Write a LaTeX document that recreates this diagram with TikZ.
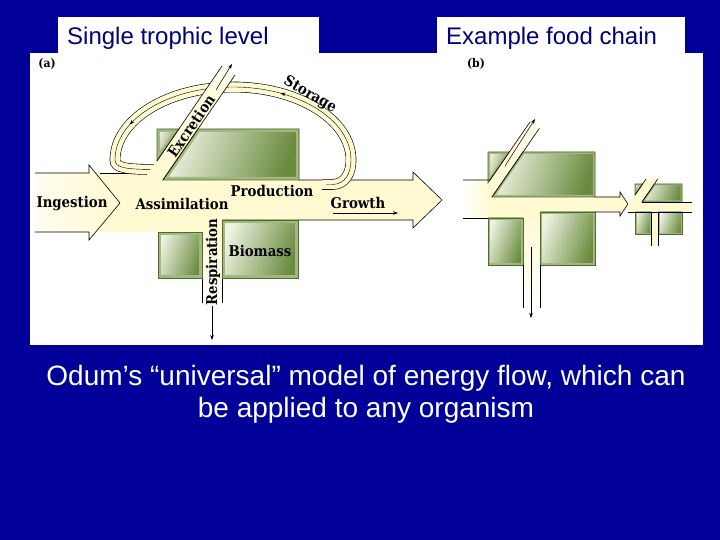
\documentclass[tikz,border=0pt]{standalone}
\usepackage{fontspec}
\newfontfamily\capfont{Liberation Sans}
\newfontfamily\labfont{DejaVu Serif Condensed}
\usetikzlibrary{arrows.meta,decorations.markings}
\definecolor{bgblue}{HTML}{000099}
\definecolor{navytext}{HTML}{00007A}
\definecolor{cream}{HTML}{FFFAD2}
\definecolor{boxframe}{HTML}{A3B780}
\definecolor{boxline}{HTML}{4E6A2C}
\definecolor{boxlight}{HTML}{EEF3E2}
\definecolor{boxdark}{HTML}{6A8A3E}
\newcommand\greenpoly[2]{%
  \begin{scope}
    \clip #2;
    \shade[left color=boxlight, right color=boxdark, shading angle=70] #2;
    \draw[boxframe, line width=#1] #2;
  \end{scope}
  \draw[boxline, line width=0.7pt] #2;
}
\tikzset{
  outl/.style={black, line width=0.6pt},
  thinarrow/.style={black, line width=0.5pt, -{Stealth[length=5pt,width=3.5pt]}},
  lab/.style={font=\labfont\bfseries\fontsize{14.8}{17}\selectfont, inner sep=0pt},
  panellab/.style={font=\labfont\bfseries\fontsize{12}{14}\selectfont, inner sep=0pt},
  headlab/.style={font=\capfont\fontsize{24}{28}\selectfont, text=navytext, anchor=west, inner sep=0pt},
}
\begin{document}
\begin{tikzpicture}[x=1pt,y=-1pt]
\useasboundingbox (0,0) rectangle (720,540);
% background
\fill[bgblue] (0,0) rectangle (720,540);
\fill[white] (30,53) rectangle (703,345);
\fill[white] (58,17) rectangle (319,53);
\fill[white] (437,17) rectangle (685,53);

% ===== (a) =====
\fill[cream] (95,173) -- (165,173) -- (165,180) -- (413,180) -- (413,172) -- (442,200) -- (413,228) -- (413,220) -- (222,220) -- (222,232) -- (95,232) -- cycle;
\shade[top color=cream, middle color=cream, bottom color=white] (202,231) rectangle (222,306);
\shade[left color=cream!35, right color=cream] (35,173) -- (89,173) -- (89,165) -- (120,203) -- (89,240) -- (89,232) -- (35,232) -- cycle;
\draw[outl] (35,173) -- (89,173) -- (89,165) -- (120,203) -- (89,240) -- (89,232) -- (35,232);
\draw[outl] (100,173) -- (130,173);
\draw[outl] (299,180) -- (413,180) -- (413,172) -- (442,200) -- (413,228) -- (413,220) -- (298,220);
\draw[outl] (202,232) -- (202,303);
\draw[outl] (222,278) -- (222,303);
% storage loop
\draw[black, line width=0.6pt, double=cream, double distance=9.5pt]
  (322,184.5) -- (332,184.5) .. controls (346,184.5) and (351,172) .. (351,160)
  arc[start angle=0, end angle=-180, x radius=118, y radius=73]
  .. controls (115,168) and (126,169.5) .. (158,169.5);
\draw[black, line width=0.4pt, postaction={decorate}, decoration={markings,
    mark=at position 0.37 with {\arrow{Stealth[length=5pt,width=3.5pt]}},
    mark=at position 0.78 with {\arrow{Stealth[length=5pt,width=3.5pt]}}}]
  (326,184.5) -- (332,184.5) .. controls (346,184.5) and (351,172) .. (351,160)
  arc[start angle=0, end angle=-180, x radius=118, y radius=73]
  .. controls (115,168) and (126,169.5) .. (158,169.5);
% excretion strip
\shade[top color=cream!50, middle color=cream, bottom color=cream] (146,176) -- (222,66) -- (235,75) -- (163,180) -- cycle;
% boxes
\greenpoly{6pt}{(157,129) -- (178.8,129) -- (157,160.8) -- cycle}
\greenpoly{6pt}{(197.8,129) -- (299,129) -- (299,180) -- (162.8,180) -- cycle}
\greenpoly{6pt}{(158,232) rectangle (202,278)}
\greenpoly{6pt}{(222,220) rectangle (298,278)}
\draw[outl] (157,161) -- (222,66);
\draw[outl] (163,180) -- (235,75);
\draw[thinarrow] (216,90) -- (232,64);
\draw[thinarrow] (212,306) -- (212,340);
\draw[thinarrow] (333,213) -- (398,213);
% labels
\node[panellab] (pa) at (47,64) {(a)};
\node[lab] (ing) at (72,204) {Ingestion};
\node[lab] (ass) at (182,204) {Assimilation};
\node[lab] (prod) at (272,191) {Production};
\node[lab] (gro) at (358,203) {Growth};
\node[lab] (bio) at (260,251) {Biomass};
\node[lab, rotate=90] (resp) at (213,262) {Respiration};
\node[lab, rotate=55.5] (exc) at (191,126) {Excretion};
\node[lab, rotate=-30] (sto) at (310,95) {Storage};

% ===== (b) =====
\fill[cream] (463,180) -- (497,180) -- (497,197) -- (620,197) -- (620,192) -- (628,204) -- (620,216) -- (620,212) -- (540,212) -- (540,218) -- (463,218) -- cycle;
\shade[left color=white, right color=cream] (463,180) rectangle (490,218);
\shade[top color=cream, middle color=cream, bottom color=white] (523,212) rectangle (540,310);
\shade[top color=cream!50, middle color=cream, bottom color=cream] (490,180) -- (530,122) -- (539.3,128.4) -- (492,197) -- cycle;
\greenpoly{4pt}{(488,152) -- (509.2,152) -- (488,182.9) -- cycle}
\greenpoly{4pt}{(522.9,152) -- (595,152) -- (595,197) -- (492,197) -- cycle}
\greenpoly{4pt}{(488,218) rectangle (523,265)}
\greenpoly{4pt}{(540,212) rectangle (595,265)}
\draw[outl] (463,180) -- (490,180) -- (530,122);
\draw[outl] (492,197) -- (539.3,128.4);
\draw[outl] (463,218) -- (488,218);
\draw[outl] (595,197) -- (620,197) -- (620,192) -- (628,204) -- (620,216) -- (620,212) -- (595,212);
\draw[outl] (523,265) -- (523,308);
\draw[outl] (540,265) -- (540,308);
\draw[thinarrow] (505,166) -- (535,119);
\draw[thinarrow] (531,247) -- (531,318);
% small unit
\fill[cream] (628,204) -- (635,195) -- (646,179) -- (657.8,179) -- (642,202) -- (692,202) -- (692,212) -- (658,212) -- (658,246) -- (651.5,246) -- (651.5,212) -- (628,212) -- cycle;
\greenpoly{3pt}{(635,184) -- (642.6,184) -- (635,195) -- cycle}
\greenpoly{3pt}{(654.4,184) -- (682,184) -- (682,202) -- (642,202) -- cycle}
\greenpoly{3pt}{(635,212) rectangle (651.5,234)}
\greenpoly{3pt}{(658,212) rectangle (682,234)}
\draw[outl] (635,195) -- (646,179);
\draw[outl] (642,202) -- (657.8,179);
\draw[outl] (642,202) -- (692,202);
\draw[outl] (628,212) -- (692,212);
\draw[outl] (651.5,212) -- (651.5,246);
\draw[outl] (658,212) -- (658,246);
\node[panellab] (pb) at (476,64) {(b)};

% headings and caption
\node[headlab] (t1) at (67,38) {Single trophic level};
\node[headlab] (t2) at (446,38) {Example food chain};
\node[font=\capfont\fontsize{28}{32}\selectfont, text=white, align=center, inner sep=0pt] (cap) at (366,394) {Odum’s “universal” model of energy flow, which can\\be applied to any organism};
\end{tikzpicture}
\end{document}
